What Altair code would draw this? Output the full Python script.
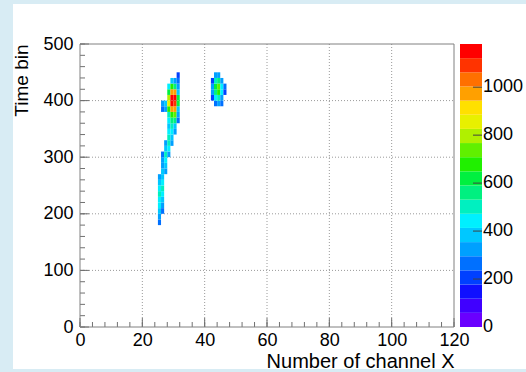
import altair as alt
import pandas as pd

# ---------------- data ----------------
x_major = [0, 20, 40, 60, 80, 100, 120]
x_minor = list(range(0, 121, 4))
y_major = [0, 100, 200, 300, 400, 500]
y_minor = list(range(0, 501, 20))
z_labels = [0, 200, 400, 600, 800, 1000]
z_max = 1180
n_levels = 20
palette = [
    "#6a00ff", "#4000ff", "#1010ff", "#0040ff", "#0070ff",
    "#00a0ff", "#00c8ff", "#00f0ff", "#00f0c0", "#00f080",
    "#00f040", "#20f000", "#60f000", "#b0f000", "#e8f000",
    "#ffe000", "#ffa000", "#ff7000", "#ff3300", "#ff0000",
]

t_bin = 10
channels = [25, 26, 27, 28, 29, 30, 31, 42, 43, 44, 45, 46]
t_start = [180, 200, 270, 300, 320, 340, 360, 400, 390, 390, 390, 410]
counts = [
    [280, 330, 380, 420, 470, 520, 450, 380, 300],
    [250, 300, 380, 420, 480, 450, 400, 380, 350, 300, 250, 0, 0, 0, 0, 0, 0, 0, 260, 320],
    [300, 380, 450, 480, 400, 300, 0, 0, 0, 0, 0, 350, 400],
    [350, 420, 480, 500, 420, 380, 420, 480, 650, 850, 800, 600, 450],
    [300, 380, 420, 480, 550, 700, 1000, 1130, 1160, 1000, 700, 380],
    [300, 400, 550, 750, 950, 1090, 1130, 950, 550, 320],
    [250, 300, 400, 600, 600, 380, 300, 250, 220],
    [220, 320, 300, 230],
    [260, 420, 560, 620, 480, 300],
    [300, 480, 680, 720, 560, 340],
    [240, 300, 420, 450, 300],
    [220, 250],
]

rows = []
for ch, t0, vals in zip(channels, t_start, counts):
    for i, v in enumerate(vals):
        if v > 0:
            rows.append({"ch": ch, "ch2": ch + 1, "t": t0 + i * t_bin,
                         "t2": t0 + (i + 1) * t_bin, "v": v})
hist = pd.DataFrame(rows)

step = z_max / n_levels
bounds = [step * k for k in range(1, n_levels)]
bands = pd.DataFrame({"lvl": list(range(n_levels))})

FONT = "Liberation Sans"
W, H = 374, 283
xs = alt.Scale(domain=[0, 120], nice=False, zero=False)
ys = alt.Scale(domain=[0, 500], nice=False, zero=False)
cs = alt.Scale(type="threshold", domain=bounds, range=palette)

ax_x = alt.Axis(
    values=x_major, grid=False, ticks=False, domain=False, labelFlush=False,
    labelFont=FONT, labelFontSize=18, labelPadding=4, labelColor="black",
    title="Number of channel X", titleFont=FONT, titleFontSize=20,
    titleFontWeight="normal", titleColor="black", titleAnchor="end",
    titlePadding=2, zindex=1, format="d")
ax_y = alt.Axis(
    values=y_major, grid=False, ticks=False, domain=False,
    labelFont=FONT, labelFontSize=18, labelPadding=7, labelColor="black",
    title="Time bin", titleFont=FONT, titleFontSize=19,
    titleFontWeight="normal", titleColor="black", titleAnchor="end",
    titlePadding=11, zindex=1, format="d")

one = pd.DataFrame({"a": [0]})

panel = alt.Chart(one).mark_rect(color="white").encode(
    x=alt.value(-67), x2=alt.value(W + 80), y=alt.value(-40), y2=alt.value(H + 42)
)

gx = alt.Chart(pd.DataFrame({"x": x_major[1:-1]})).mark_rule(
    color="#9a9a9a", strokeDash=[1, 2], strokeWidth=1
).encode(x=alt.X("x:Q", scale=xs, axis=ax_x), y=alt.value(0), y2=alt.value(H))
gy = alt.Chart(pd.DataFrame({"y": y_major[1:-1]})).mark_rule(
    color="#9a9a9a", strokeDash=[1, 2], strokeWidth=1
).encode(y=alt.Y("y:Q", scale=ys, axis=ax_y), x=alt.value(0), x2=alt.value(W))

heat = alt.Chart(hist).mark_rect().encode(
    x=alt.X("ch:Q", scale=xs, axis=ax_x),
    x2="ch2:Q",
    y=alt.Y("t:Q", scale=ys, axis=ax_y),
    y2="t2:Q",
    color=alt.Color("v:Q", scale=cs, legend=None),
)

tick_col = "#707070"
txM = alt.Chart(pd.DataFrame({"x": x_major})).mark_rule(color=tick_col).encode(
    x=alt.X("x:Q", scale=xs, axis=ax_x), y=alt.value(H), y2=alt.value(H - 9))
txm = alt.Chart(pd.DataFrame({"x": x_minor})).mark_rule(color=tick_col).encode(
    x=alt.X("x:Q", scale=xs, axis=ax_x), y=alt.value(H), y2=alt.value(H - 5))
tyM = alt.Chart(pd.DataFrame({"y": y_major})).mark_rule(color=tick_col).encode(
    y=alt.Y("y:Q", scale=ys, axis=ax_y), x=alt.value(0), x2=alt.value(9))
tym = alt.Chart(pd.DataFrame({"y": y_minor})).mark_rule(color=tick_col).encode(
    y=alt.Y("y:Q", scale=ys, axis=ax_y), x=alt.value(0), x2=alt.value(5))

frame = alt.Chart(one).mark_rect(fillOpacity=0, stroke="#808080", strokeWidth=1).encode(
    x=alt.value(0), x2=alt.value(W), y=alt.value(0), y2=alt.value(H))

cbar = alt.Chart(bands).transform_calculate(
    y0=f"datum.lvl * {step} * 500 / {z_max}",
    y1=f"(datum.lvl + 1) * {step} * 500 / {z_max}",
    mid=f"(datum.lvl + 0.5) * {step}",
).mark_rect().encode(
    x=alt.value(W + 6), x2=alt.value(W + 28),
    y=alt.Y("y0:Q", scale=ys, axis=ax_y), y2="y1:Q",
    color=alt.Color("mid:Q", scale=cs, legend=None),
)

zdf = pd.DataFrame({"z": z_labels})
ctick = alt.Chart(zdf[zdf.z > 0]).transform_calculate(
    zy=f"datum.z * 500 / {z_max}"
).mark_rule(color="#404040").encode(
    y=alt.Y("zy:Q", scale=ys, axis=ax_y), x=alt.value(W + 19), x2=alt.value(W + 28))
clab = alt.Chart(zdf).transform_calculate(
    zy=f"datum.z * 500 / {z_max}"
).mark_text(align="left", baseline="middle", font=FONT, fontSize=18, color="black").encode(
    y=alt.Y("zy:Q", scale=ys, axis=ax_y), x=alt.value(W + 29), text="z:Q")

chart = alt.layer(
    panel, gx, gy, heat, txM, txm, tyM, tym, frame, cbar, ctick, clab
).properties(
    width=W, height=H,
    autosize=alt.AutoSizeParams(type="none"),
    padding={"left": 80, "top": 44, "right": 72, "bottom": 45},
).configure(background="#d8ecf4").configure_view(stroke="transparent")

chart.save("out.html", embed_options={"renderer": "svg", "actions": False})
